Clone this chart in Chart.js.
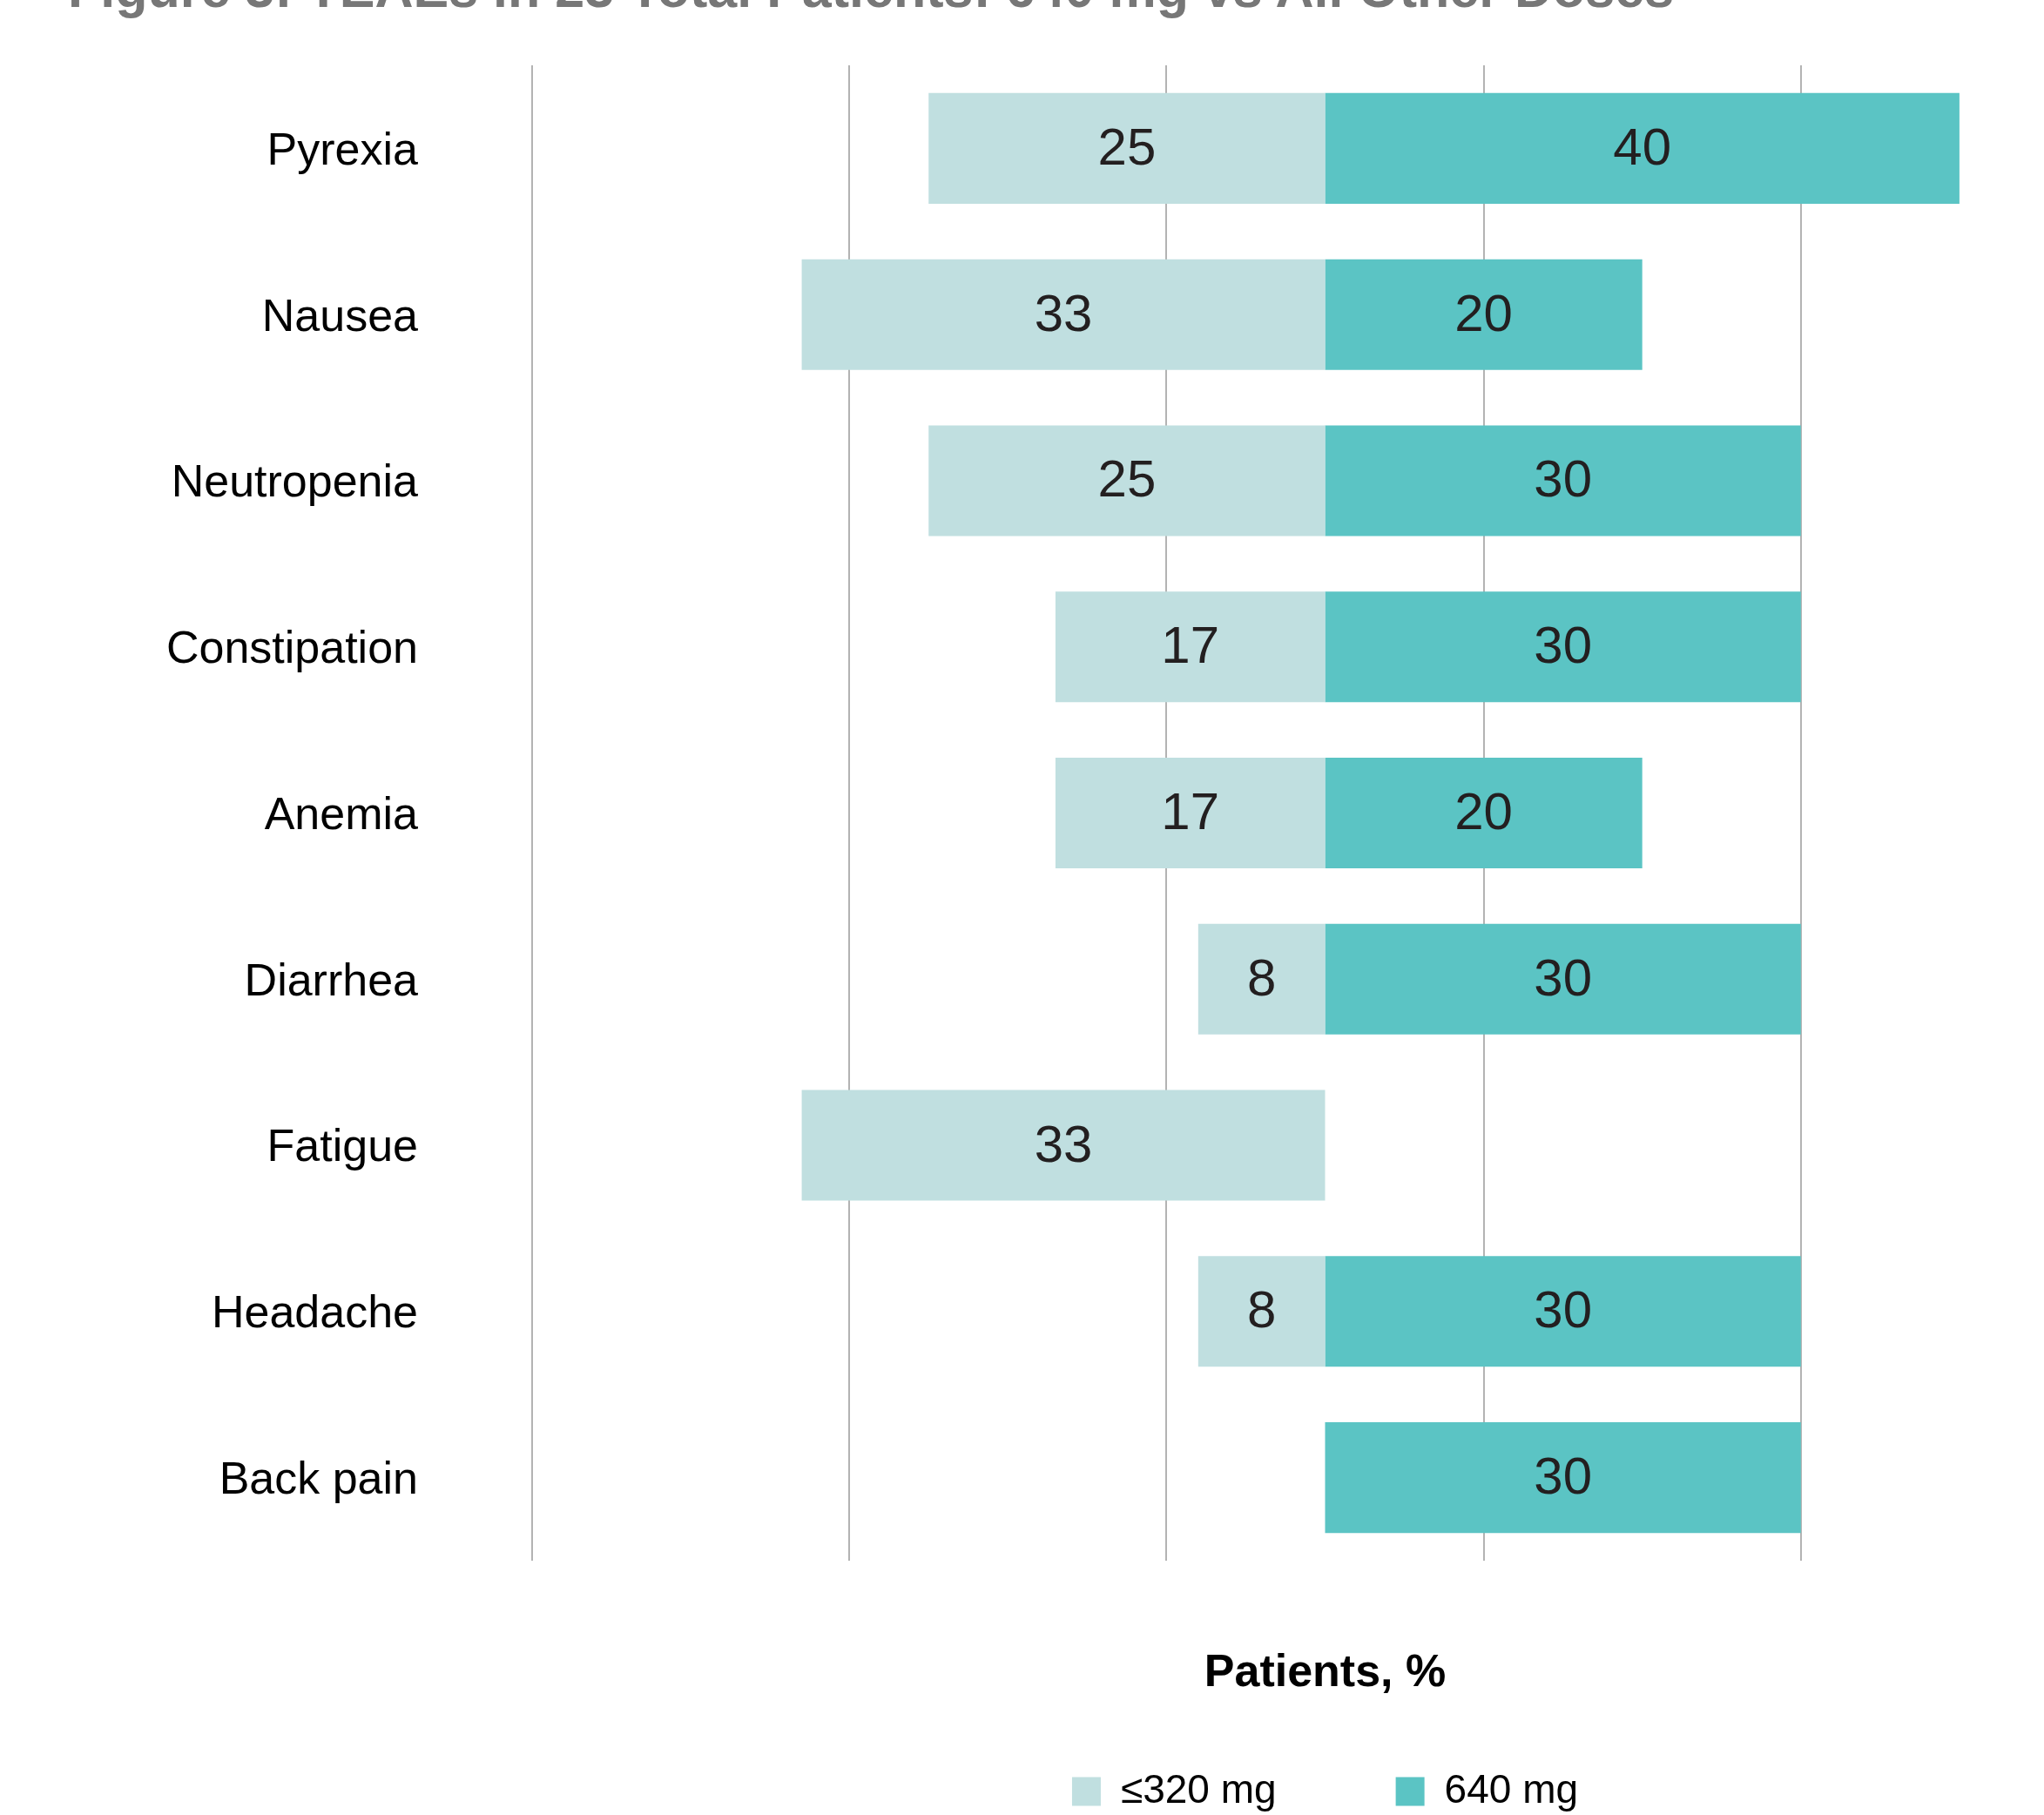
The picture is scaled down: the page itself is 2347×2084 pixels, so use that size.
<!DOCTYPE html>
<html>
<head>
<meta charset="utf-8">
<script src="https://cdn.jsdelivr.net/npm/chart.js@4.4.1/dist/chart.umd.min.js"></script>
<style>
    html, body { margin: 0; padding: 0; background: #fff; overflow: hidden; width: 2347px; height: 2084px; }
    #figTitle {
        position: absolute; left: 78px; top: -43px; z-index: 2;
        font: bold 61px "Liberation Sans", Arial, sans-serif; line-height: 61px;
        color: #777777; white-space: nowrap;
    }
    #wrap { position: absolute; left: 0; top: 0; }
</style>
</head>
<body>
<div id="figTitle">Figure 3: TEAEs in 23 Total Patients: 640 mg vs All Other Doses</div>
<div id="wrap"><canvas id="aeChart" width="2432" height="2090"></canvas></div>
<script>
const categories = ["Pyrexia", "Nausea", "Neutropenia", "Constipation", "Anemia", "Diarrhea", "Fatigue", "Headache", "Back pain"];
const lowDoseValues = [25, 33, 25, 17, 17, 8, 33, 8, 0];
const highDoseValues = [40, 20, 30, 30, 20, 30, 0, 30, 30];
const seriesNames = ["≤320 mg", "640 mg"];
const gridTickValues = [-50, -30, -10, 10, 30, 50];

const FONT = '"Liberation Sans", Arial, sans-serif';
Chart.defaults.font.family = FONT;

// value labels in the middle of each bar
const barLabels = {
    id: "barLabels",
    afterDatasetsDraw(chart) {
        const ctx = chart.ctx;
        ctx.save();
        ctx.font = "60px " + FONT;
        ctx.fillStyle = "#231f20";
        ctx.textAlign = "center";
        ctx.textBaseline = "middle";
        chart.data.datasets.forEach((ds, i) => {
            chart.getDatasetMeta(i).data.forEach((bar, j) => {
                const v = Math.abs(ds.data[j]);
                if (!v) return;
                const p = bar.getCenterPoint();
                ctx.fillText(v, p.x, p.y + 2);
            });
        });
        ctx.restore();
    }
};

new Chart(document.getElementById("aeChart"), {
    type: "bar",
    data: {
        labels: categories,
        datasets: [
            {
                label: seriesNames[0],
                data: lowDoseValues.map(v => -v),
                backgroundColor: "#c0dfe0",
                borderWidth: 0,
                categoryPercentage: 1,
                barPercentage: 0.666
            },
            {
                label: seriesNames[1],
                data: highDoseValues,
                backgroundColor: "#5bc4c4",
                borderWidth: 0,
                categoryPercentage: 1,
                barPercentage: 0.666
            }
        ]
    },
    options: {
        indexAxis: "y",
        responsive: false,
        animation: false,
        layout: { padding: { top: 75, left: 0, right: 0, bottom: 0 } },
        scales: {
            x: {
                type: "linear",
                stacked: true,
                min: -50,
                max: 50,
                afterBuildTicks: axis => { axis.ticks = gridTickValues.map(v => ({ value: v })); },
                afterFit: axis => { axis.height = 105; },
                ticks: { display: false },
                grid: { color: "#b3b3b3", lineWidth: 2, drawTicks: false },
                border: { display: false },
                title: {
                    display: true,
                    text: "Patients, %",
                    color: "#000",
                    font: { size: 52, weight: "bold", lineHeight: 1.2 },
                    // pushed down into the gap above the legend
                    padding: { top: 0, bottom: -56 }
                }
            },
            y: {
                stacked: true,
                afterFit: axis => {
                    axis.width = 611;
                    // the big tick padding must not eat vertical room
                    axis.paddingTop = 0;
                    axis.paddingBottom = 0;
                },
                grid: { display: false },
                border: { display: false },
                ticks: { color: "#000", font: { size: 52 }, padding: 123, labelOffset: 4 }
            }
        },
        plugins: {
            legend: {
                position: "bottom",
                fullSize: false,
                labels: {
                    boxWidth: 33,
                    boxHeight: 33,
                    padding: 137,
                    color: "#000",
                    font: { size: 46 }
                }
            },
            tooltip: { enabled: false }
        }
    },
    plugins: [barLabels]
});
</script>
</body>
</html>
